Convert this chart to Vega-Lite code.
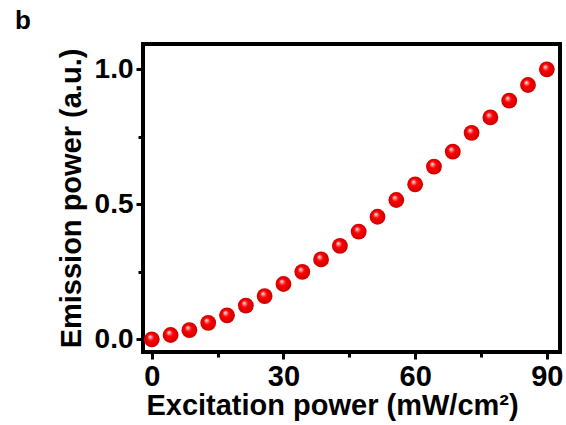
{
  "$schema": "https://vega.github.io/schema/vega-lite/v6.json",
  "autosize": "none",
  "width": 417,
  "height": 308,
  "padding": {"left": 143, "top": 44, "right": 6, "bottom": 73},
  "background": "white",
  "config": {
    "view": {"stroke": "black", "strokeWidth": 4},
    "font": "Liberation Sans"
  },
  "title": {
    "text": "b",
    "anchor": "start",
    "frame": "group",
    "font": "Liberation Sans",
    "fontSize": 26,
    "fontWeight": "bold",
    "color": "black",
    "dx": -128,
    "offset": 10
  },
  "data": {
    "values": [
      {"p": 0.0, "e": 0.0},
      {"p": 4.29, "e": 0.016},
      {"p": 8.57, "e": 0.034},
      {"p": 12.86, "e": 0.061},
      {"p": 17.14, "e": 0.089},
      {"p": 21.43, "e": 0.125},
      {"p": 25.71, "e": 0.16},
      {"p": 30.0, "e": 0.205},
      {"p": 34.29, "e": 0.25},
      {"p": 38.57, "e": 0.296},
      {"p": 42.86, "e": 0.346},
      {"p": 47.14, "e": 0.399},
      {"p": 51.43, "e": 0.454},
      {"p": 55.71, "e": 0.516},
      {"p": 60.0, "e": 0.574},
      {"p": 64.29, "e": 0.64},
      {"p": 68.57, "e": 0.695},
      {"p": 72.86, "e": 0.765},
      {"p": 77.14, "e": 0.822},
      {"p": 81.43, "e": 0.884},
      {"p": 85.71, "e": 0.942},
      {"p": 90.0, "e": 1.0}
    ]
  },
  "mark": {
    "type": "point",
    "shape": "circle",
    "filled": true,
    "size": 250,
    "opacity": 1,
    "strokeWidth": 0,
    "fill": {
      "gradient": "radial",
      "x1": 0.38, "y1": 0.32, "r1": 0,
      "x2": 0.5, "y2": 0.5, "r2": 0.5,
      "stops": [
        {"offset": 0, "color": "#ffffff"},
        {"offset": 0.22, "color": "#ff7070"},
        {"offset": 0.42, "color": "#ff0000"},
        {"offset": 1, "color": "#cc0000"}
      ]
    }
  },
  "encoding": {
    "x": {
      "field": "p",
      "type": "quantitative",
      "scale": {"domain": [-2, 93], "nice": false, "zero": false},
      "axis": {
        "title": "Excitation power (mW/cm²)",
        "titleX": 189,
        "values": [0, 15, 30, 45, 60, 75, 90],
        "labelExpr": "datum.value % 30 == 0 ? datum.label : ''",
        "grid": false,
        "domain": false,
        "ticks": true,
        "tickColor": "black",
        "tickWidth": 3,
        "tickSize": {"condition": {"test": "datum.value % 30 != 0", "value": 5}, "value": 7},
        "labelFont": "Liberation Sans",
        "labelFontSize": 29,
        "labelFontWeight": "bold",
        "labelColor": "black",
        "labelPadding": 3,
        "labelFlush": false,
        "titleFont": "Liberation Sans",
        "titleFontSize": 29,
        "titleFontWeight": "bold",
        "titleColor": "black",
        "titlePadding": 0
      }
    },
    "y": {
      "field": "e",
      "type": "quantitative",
      "scale": {"domain": [-0.047, 1.094], "nice": false, "zero": false},
      "axis": {
        "title": "Emission power (a.u.)",
        "values": [0, 0.25, 0.5, 0.75, 1.0],
        "labelExpr": "datum.value % 0.5 == 0 ? format(datum.value, '.1f') : ''",
        "grid": false,
        "domain": false,
        "ticks": true,
        "tickColor": "black",
        "tickWidth": 3,
        "tickSize": {"condition": {"test": "datum.value % 0.5 != 0", "value": 5}, "value": 7},
        "labelFont": "Liberation Sans",
        "labelFontSize": 28,
        "labelFontWeight": "bold",
        "labelColor": "black",
        "labelPadding": 3,
        "labelFlush": false,
        "titleFont": "Liberation Sans",
        "titleFontSize": 29,
        "titleFontWeight": "bold",
        "titleColor": "black",
        "titlePadding": 8
      }
    }
  }
}
